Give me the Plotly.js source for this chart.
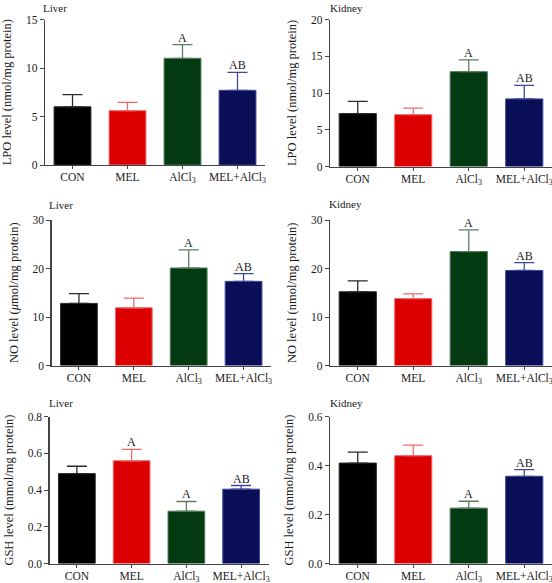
<!DOCTYPE html>
<html>
<head>
<meta charset="utf-8">
<script src="https://cdn.plot.ly/plotly-3.0.1.min.js"></script>
<style>
  html, body { margin: 0; padding: 0; background: #fff; }
  #chart { width: 552px; height: 583px; }
</style>
</head>
<body>
<div id="chart"></div>
<script>
// ---- Data ----
const categories = ['CON', 'MEL', 'AlCl<sub>3</sub>', 'MEL+AlCl<sub>3</sub>'];

const lpoLiver = [6.0, 5.6, 11.0, 7.7];
const lpoLiverErr = [1.25, 0.85, 1.4, 1.85];
const lpoLiverLetters = ['', '', 'A', 'AB'];
const lpoLiverTicks = [0, 5, 10, 15];

const lpoKidney = [7.2, 7.05, 12.9, 9.2];
const lpoKidneyErr = [1.65, 0.9, 1.6, 1.85];
const lpoKidneyLetters = ['', '', 'A', 'AB'];
const lpoKidneyTicks = [0, 5, 10, 15, 20];

const noLiver = [12.8, 11.9, 20.1, 17.35];
const noLiverErr = [2.0, 2.0, 3.75, 1.6];
const noLiverLetters = ['', '', 'A', 'AB'];
const noLiverTicks = [0, 10, 20, 30];

const noKidney = [15.2, 13.8, 23.5, 19.6];
const noKidneyErr = [2.25, 0.95, 4.45, 1.6];
const noKidneyLetters = ['', '', 'A', 'AB'];
const noKidneyTicks = [0, 10, 20, 30];

const gshLiver = [0.49, 0.56, 0.285, 0.405];
const gshLiverErr = [0.04, 0.062, 0.053, 0.02];
const gshLiverLetters = ['', 'A', 'A', 'AB'];
const gshLiverTicks = [0, 0.2, 0.4, 0.6, 0.8];

const gshKidney = [0.41, 0.44, 0.226, 0.356];
const gshKidneyErr = [0.045, 0.043, 0.028, 0.027];
const gshKidneyLetters = ['', '', 'A', 'AB'];
const gshKidneyTicks = [0, 0.2, 0.4, 0.6];

const organs = ['Liver', 'Kidney', 'Liver', 'Kidney', 'Liver', 'Kidney'];
const yTitles = [
  'LPO level (nmol/mg protein)', 'LPO level (nmol/mg protein)',
  'NO level (<i>μ</i>mol/mg protein)', 'NO level (nmol/mg protein)',
  'GSH level (mmol/mg protein)', 'GSH level (mmol/mg protein)'
];

// ---- Styles ----
const barColors = ['#000000', '#dc0000', '#033a12', '#0a0e56'];
const lineColors = ['#2a2a2a', '#f06a6a', '#4f7a56', '#3d4898'];
const errColors = ['#2a2a2a', '#f06a6a', '#5a7f60', '#3d4898'];

const panels = [
  {vals: lpoLiver, errs: lpoLiverErr, letters: lpoLiverLetters, ticks: lpoLiverTicks, fmt: ''},
  {vals: lpoKidney, errs: lpoKidneyErr, letters: lpoKidneyLetters, ticks: lpoKidneyTicks, fmt: ''},
  {vals: noLiver, errs: noLiverErr, letters: noLiverLetters, ticks: noLiverTicks, fmt: ''},
  {vals: noKidney, errs: noKidneyErr, letters: noKidneyLetters, ticks: noKidneyTicks, fmt: ''},
  {vals: gshLiver, errs: gshLiverErr, letters: gshLiverLetters, ticks: gshLiverTicks, fmt: '.1f'},
  {vals: gshKidney, errs: gshKidneyErr, letters: gshKidneyLetters, ticks: gshKidneyTicks, fmt: '.1f'}
];

// pixel geometry of each panel's plot area [x0, x1, yTop, yBottom]
const W = 552, H = 583;
const geom = [
  [45, 265, 19.5, 165],
  [330, 552, 19.5, 166.5],
  [51.5, 271, 220, 365.5],
  [330, 552, 220, 365.5],
  [49.5, 268.5, 416.7, 563.5],
  [330, 552, 416.5, 563.5]
];
// [left x, vertical centre y] of the organ labels
const orgTitlePos = [
  [41, 8], [328, 8], [47, 205], [327, 204], [47, 403], [328, 403]
];

const FONT = 'Liberation Serif, Times New Roman, serif';
const traces = [];
const annotations = [];
const layout = {
  width: W, height: H,
  margin: {l: 0, r: 0, t: 0, b: 0},
  paper_bgcolor: '#ffffff',
  plot_bgcolor: '#ffffff',
  showlegend: false,
  bargap: 0.33,
  barmode: 'overlay',
  font: {family: FONT, size: 11, color: '#1a1a1a'}
};

panels.forEach((p, k) => {
  const n = k + 1;
  const xa = 'x' + (n === 1 ? '' : n);
  const ya = 'y' + (n === 1 ? '' : n);
  const g = geom[k];
  categories.forEach((c, i) => {
    traces.push({
      type: 'bar',
      x: [c], y: [p.vals[i]],
      xaxis: xa, yaxis: ya,
      width: 0.67,
      marker: {color: barColors[i], line: {color: lineColors[i], width: 1}},
      error_y: {type: 'data', symmetric: false, array: [p.errs[i]], arrayminus: [0],
                color: errColors[i], thickness: 1.3, width: 10},
      hoverinfo: 'skip'
    });
    if (p.letters[i]) {
      annotations.push({
        xref: xa, yref: ya, x: c, y: p.vals[i] + p.errs[i],
        text: p.letters[i], showarrow: false, yanchor: 'bottom', yshift: -2,
        font: {family: FONT, size: 12, color: '#1a1a1a'}
      });
    }
  });
  const top = p.ticks[p.ticks.length - 1];
  layout['xaxis' + (n === 1 ? '' : n)] = {
    domain: [g[0] / W, g[1] / W],
    anchor: ya,
    type: 'category',
    categoryorder: 'array', categoryarray: categories,
    range: [-0.5, 3.5],
    showline: true, linecolor: '#444', linewidth: 1.2,
    ticks: 'outside', ticklen: 3, tickcolor: '#444', tickwidth: 1,
    ticklabelstandoff: -2,
    showgrid: false, zeroline: false,
    tickfont: {family: FONT, size: 11.5, color: '#1a1a1a'},
    fixedrange: true
  };
  layout['yaxis' + (n === 1 ? '' : n)] = {
    domain: [1 - g[3] / H, 1 - g[2] / H],
    anchor: xa,
    range: [0, top],
    tickvals: p.ticks,
    tickformat: p.fmt,
    showline: true, linecolor: '#444', linewidth: 1.2,
    ticks: 'outside', ticklen: 4, tickcolor: '#444', tickwidth: 1,
    showgrid: false, zeroline: false,
    tickfont: {family: FONT, size: 11.5, color: '#1a1a1a'},
    title: {text: yTitles[k], font: {family: FONT, size: 12.5, color: '#1a1a1a'}, standoff: 11},
    fixedrange: true
  };
  annotations.push({
    xref: 'paper', yref: 'paper',
    x: orgTitlePos[k][0] / W, y: 1 - orgTitlePos[k][1] / H,
    xanchor: 'left', yanchor: 'middle',
    text: organs[k], showarrow: false,
    font: {family: FONT, size: 11, color: '#1a1a1a'}
  });
});
layout.annotations = annotations;

Plotly.newPlot('chart', traces, layout, {displayModeBar: false, staticPlot: true});
</script>
</body>
</html>
